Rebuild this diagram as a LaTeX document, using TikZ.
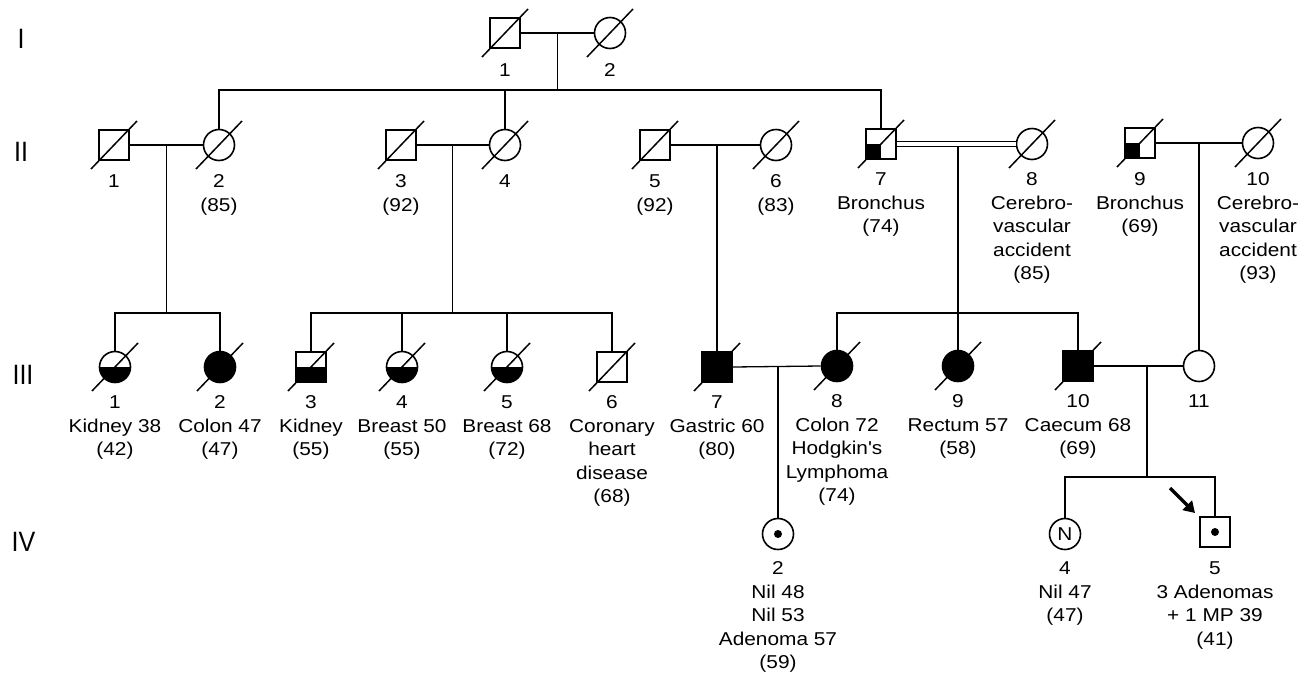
\documentclass[tikz,border=0pt]{standalone}
\usepackage{fontspec}
\setmainfont{Liberation Sans}[FakeStretch=1.12, Ligatures=TeXOff]
\usetikzlibrary{calc,arrows.meta}
\newcommand\lbfont{\fontsize{18.6}{23.5}\selectfont}
\newcommand\gnfont{\fontsize{28}{30}\selectfont}
\newcommand\dd[1]{\draw[slashline] ([shift={(-23,24)}]#1.center) -- ([shift={(23,-24)}]#1.center);}
\tikzset{
  sym/.style={draw, line width=1.6pt, inner sep=0pt, fill=white},
  sq/.style={sym, rectangle, minimum size=30pt},
  ci/.style={sym, circle, minimum size=31pt},
  full/.style={fill=black},
  lowhalf/.style={path picture={\fill[black] (path picture bounding box.west) rectangle (path picture bounding box.south east);}},
  lowleft/.style={path picture={\fill[black] (path picture bounding box.south west) rectangle (path picture bounding box.center);}},
  ln/.style={line width=1.3pt},
  slashline/.style={line width=1.5pt},
  lbl/.style={anchor=north, align=center, inner sep=0pt, font=\lbfont},
  gen/.style={anchor=center, inner sep=0pt, font=\gnfont, xscale=0.8},
  dot/.style={circle, fill=black, inner sep=0pt, minimum size=8pt}
}
\begin{document}
\begin{tikzpicture}[x=1pt,y=-1pt]
\path[use as bounding box] (0,0) rectangle (1315,675);
% generation labels
\node[gen] (gI) at (21,39) {I};
\node[gen] (gII) at (21,152) {II};
\node[gen] (gIII) at (23,375) {III};
\node[gen] (gIV) at (23.5,542) {IV};
% Generation I
\node[sq] (I1) at (505,33) {};
\node[ci] (I2) at (610,33) {};
% Generation II
\node[sq] (II1) at (114,145) {};
\node[ci] (II2) at (219,145) {};
\node[sq] (II3) at (401,145) {};
\node[ci] (II4) at (505,145) {};
\node[sq] (II5) at (655,145) {};
\node[ci] (II6) at (776,145) {};
\node[sq,lowleft] (II7) at (881,144) {};
\node[ci] (II8) at (1032,144) {};
\node[sq,lowleft] (II9) at (1140,143) {};
\node[ci] (II10) at (1258,143) {};
% Generation III
\node[ci,lowhalf] (III1) at (115,367) {};
\node[ci,full] (III2) at (220,367) {};
\node[sq,lowhalf] (III3) at (311,367) {};
\node[ci,lowhalf] (III4) at (402,367) {};
\node[ci,lowhalf] (III5) at (507,367) {};
\node[sq] (III6) at (612,367) {};
\node[sq,full] (III7) at (717,367) {};
\node[ci,full] (III8) at (837,366) {};
\node[ci,full] (III9) at (958,366) {};
\node[sq,full] (III10) at (1078,366) {};
\node[ci] (III11) at (1199,366) {};
% Generation IV
\node[ci] (IV2) at (778,534) {};
\node[dot] (IV2d) at (IV2.center) {};
\node[ci, font=\lbfont] (IV4) at (1065,534) {N};
\node[sq] (IV5) at (1215,532) {};
\node[dot] (IV5d) at (IV5.center) {};
% deceased slashes
\dd{I1}\dd{I2}
\dd{II1}\dd{II2}\dd{II3}\dd{II4}\dd{II5}\dd{II6}\dd{II7}\dd{II8}\dd{II9}\dd{II10}
\dd{III1}\dd{III2}\dd{III3}\dd{III4}\dd{III5}\dd{III6}\dd{III7}\dd{III8}\dd{III9}\dd{III10}
% connectors
\coordinate (mI) at ($(I1.east)!0.5!(I2.west)$);
\coordinate (sI) at (557,90);
\draw[ln] (I1.east) -- (I2.west);
\draw[ln] (mI) -- (mI |- sI);
\draw[ln] (II2.north) -- (II2.north |- sI) -- (II7.north |- sI) -- (II7.north);
\draw[ln] (II4.north) -- (II4.north |- sI);
% II1 x II2
\coordinate (m12) at ($(II1.east)!0.5!(II2.west)$);
\coordinate (sA) at (167,313);
\draw[ln] (II1.east) -- (II2.west);
\draw[ln] (m12) -- (m12 |- sA);
\draw[ln] (III1.north) -- (III1.north |- sA) -- (III2.north |- sA) -- (III2.north);
% II3 x II4
\coordinate (m34) at ($(II3.east)!0.5!(II4.west)$);
\coordinate (sB) at (453,313);
\draw[ln] (II3.east) -- (II4.west);
\draw[ln] (m34) -- (m34 |- sB);
\draw[ln] (III3.north) -- (III3.north |- sB) -- (III6.north |- sB) -- (III6.north);
\draw[ln] (III4.north) -- (III4.north |- sB);
\draw[ln] (III5.north) -- (III5.north |- sB);
% II5 x II6
\draw[ln] (II5.east) -- (II6.west);
\draw[ln] (III7.north |- II5.east) -- (III7.north);
% II7 = II8
\draw[line width=1.3pt, double, double distance=4pt] (II7.east) -- (II8.west);
\coordinate (dC) at ($(II7.east)+(0,2.6)$);
\coordinate (sC) at (958,313);
\draw[ln] (III9.north |- dC) -- (III9.north);
\draw[ln] (III8.north) -- (III8.north |- sC) -- (III10.north |- sC) -- (III10.north);
% II9 x II10
\draw[ln] (II9.east) -- (II10.west);
\draw[ln] (III11.north |- II9.east) -- (III11.north);
% III7 x III8
\draw[ln] (III7.east) -- (III8.west);
\draw[ln] (IV2.north |- III7.east) -- (IV2.north);
% III10 x III11
\coordinate (sD) at (1147,477);
\draw[ln] (III10.east) -- (III11.west);
\draw[ln] (sD |- III10.east) -- (sD);
\draw[ln] (IV4.north) -- (IV4.north |- sD) -- (IV5.north |- sD) -- (IV5.north);
% proband arrow
\coordinate (arS) at (1170,488);
\coordinate (arE) at (1195,513);
\draw[line width=3.2pt, -{Triangle[length=11pt,width=13pt]}] (arS) -- (arE);
% labels
\node[lbl] (lI1) at (505,60) {\strut 1};
\node[lbl] (lI2) at (610,60) {\strut 2};
\node[lbl] (lII1) at (114,171) {\strut 1};
\node[lbl] (lII2) at (219,171) {\strut 2\\(85)};
\node[lbl] (lII3) at (401,171) {\strut 3\\(92)};
\node[lbl] (lII4) at (505,171) {\strut 4};
\node[lbl] (lII5) at (655,171) {\strut 5\\(92)};
\node[lbl] (lII6) at (776,171) {\strut 6\\(83)};
\node[lbl] (lII7) at (881,169) {\strut 7\\Bronchus\\(74)};
\node[lbl] (lII8) at (1032,169) {\strut 8\\Cerebro-\\vascular\\accident\\(85)};
\node[lbl] (lII9) at (1140,169) {\strut 9\\Bronchus\\(69)};
\node[lbl] (lII10) at (1258,169) {\strut 10\\Cerebro-\\vascular\\accident\\(93)};
\node[lbl] (lIII1) at (115,392) {\strut 1\\Kidney 38\\(42)};
\node[lbl] (lIII2) at (220,392) {\strut 2\\Colon 47\\(47)};
\node[lbl] (lIII3) at (311,392) {\strut 3\\Kidney\\(55)};
\node[lbl] (lIII4) at (402,392) {\strut 4\\Breast 50\\(55)};
\node[lbl] (lIII5) at (507,392) {\strut 5\\Breast 68\\(72)};
\node[lbl] (lIII6) at (612,392) {\strut 6\\Coronary\\heart\\disease\\(68)};
\node[lbl] (lIII7) at (717,392) {\strut 7\\Gastric 60\\(80)};
\node[lbl] (lIII8) at (837,391) {\strut 8\\Colon 72\\Hodgkin's\\Lymphoma\\(74)};
\node[lbl] (lIII9) at (958,391) {\strut 9\\Rectum 57\\(58)};
\node[lbl] (lIII10) at (1078,391) {\strut 10\\Caecum 68\\(69)};
\node[lbl] (lIII11) at (1199,391) {\strut 11};
\node[lbl] (lIV2) at (778,558) {\strut 2\\Nil 48\\Nil 53\\Adenoma 57\\(59)};
\node[lbl] (lIV4) at (1065,558) {\strut 4\\Nil 47\\(47)};
\node[lbl] (lIV5) at (1215,558) {\strut 5\\3 Adenomas\\+ 1 MP 39\\(41)};
\end{tikzpicture}
\end{document}
